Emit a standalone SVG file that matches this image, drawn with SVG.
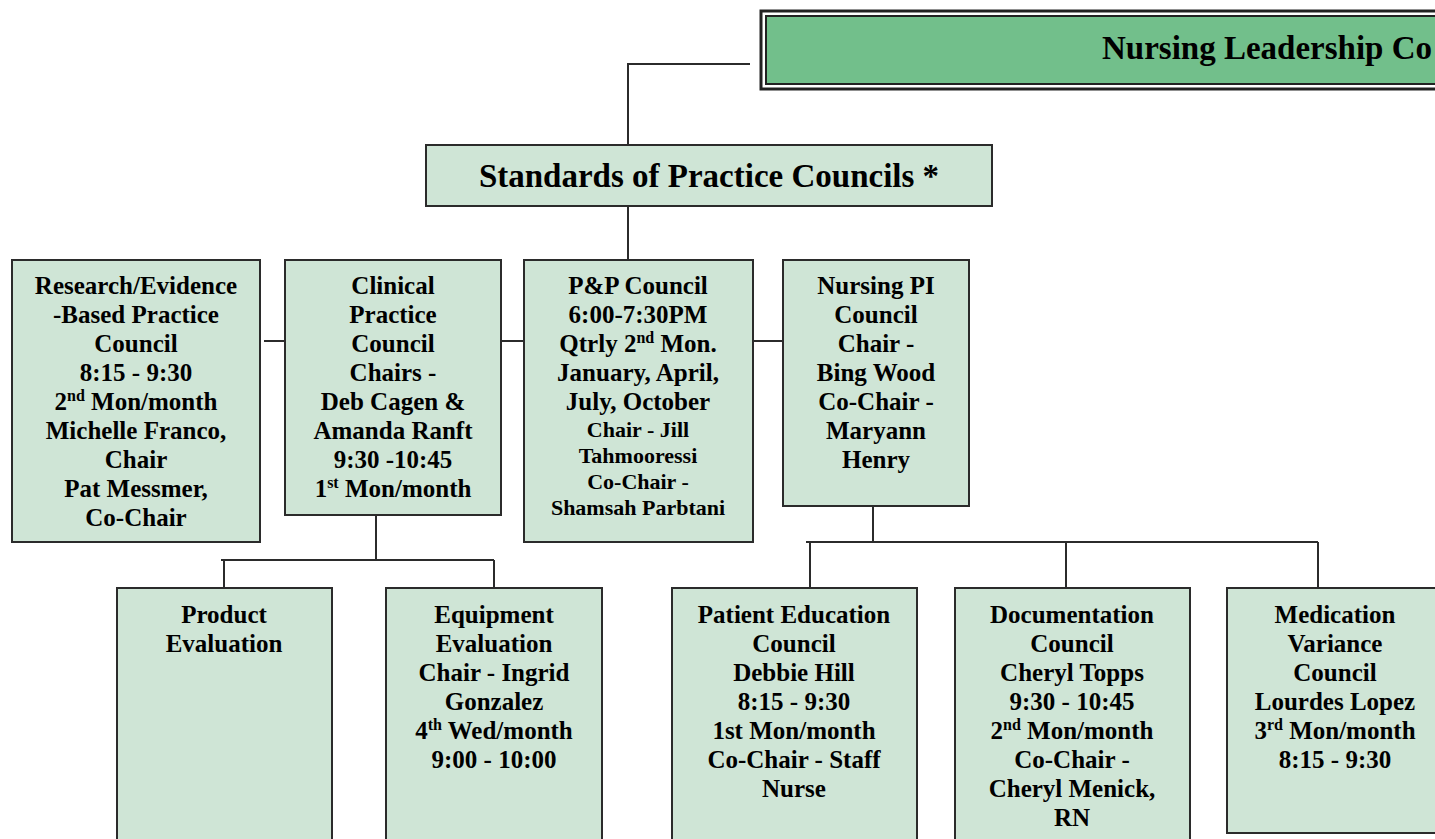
<svg xmlns="http://www.w3.org/2000/svg" width="1435" height="839" viewBox="0 0 1435 839">
<style>
.box{fill:#cfe5d6;stroke:#2b2b2b;stroke-width:2}
.t{font-family:"Liberation Serif","Times New Roman",serif;font-weight:bold;font-size:25px;fill:#000;text-anchor:middle}
.s{font-size:22px}
.big{font-size:33px}
.sup{font-size:16px}
.c{stroke:#2b2b2b;stroke-width:2;fill:none}
</style>
<rect width="1435" height="839" fill="#fff"/>
<g id="connectors">
<path class="c" d="M750 64H628V145"/>
<path class="c" d="M628 206V260"/>
<path class="c" d="M264 341H285M501 341H523M753 341H783"/>
<path class="c" d="M376 515V560M221 560H494M224 560V588M494 560V588"/>
<path class="c" d="M873 506V542M806 542H1318M810 542V588M1066 542V588M1318 542V588"/>
</g>
<g id="header">
<rect x="761" y="11" width="700" height="78" fill="none" stroke="#222" stroke-width="3"/>
<rect x="766" y="16" width="700" height="68" fill="#72bf8b" stroke="#222" stroke-width="2"/>
<text class="t big" x="1102" y="59" style="text-anchor:start">Nursing Leadership Co</text>
</g>
<g id="standards">
<rect class="box" x="426" y="145" width="566" height="61"/>
<text class="t big" x="709" y="187">Standards of Practice Councils *</text>
</g>
<g id="research">
<rect class="box" x="12" y="260" width="248" height="282"/>
<text class="t" x="136" y="294">Research/Evidence</text>
<text class="t" x="136" y="323">-Based Practice</text>
<text class="t" x="136" y="352">Council</text>
<text class="t" x="136" y="381">8:15 - 9:30</text>
<text class="t" x="136" y="410">2<tspan class="sup" dy="-9">nd</tspan><tspan dy="9"> Mon/month</tspan></text>
<text class="t" x="136" y="439">Michelle Franco,</text>
<text class="t" x="136" y="468">Chair</text>
<text class="t" x="136" y="497">Pat Messmer,</text>
<text class="t" x="136" y="526">Co-Chair</text>
</g>
<g id="clinical">
<rect class="box" x="285" y="260" width="216" height="255"/>
<text class="t" x="393" y="294">Clinical</text>
<text class="t" x="393" y="323">Practice</text>
<text class="t" x="393" y="352">Council</text>
<text class="t" x="393" y="381">Chairs -</text>
<text class="t" x="393" y="410">Deb Cagen &amp;</text>
<text class="t" x="393" y="439">Amanda Ranft</text>
<text class="t" x="393" y="468">9:30 -10:45</text>
<text class="t" x="393" y="497">1<tspan class="sup" dy="-9">st</tspan><tspan dy="9"> Mon/month</tspan></text>
</g>
<g id="pp">
<rect class="box" x="524" y="260" width="229" height="282"/>
<text class="t" x="638" y="294">P&amp;P Council</text>
<text class="t" x="638" y="323">6:00-7:30PM</text>
<text class="t" x="638" y="352">Qtrly 2<tspan class="sup" dy="-9">nd</tspan><tspan dy="9"> Mon.</tspan></text>
<text class="t" x="638" y="381">January, April,</text>
<text class="t" x="638" y="410">July, October</text>
<text class="t s" x="638" y="437">Chair - Jill</text>
<text class="t s" x="638" y="463">Tahmooressi</text>
<text class="t s" x="638" y="489">Co-Chair -</text>
<text class="t s" x="638" y="515">Shamsah Parbtani</text>
</g>
<g id="nursingpi">
<rect class="box" x="783" y="260" width="186" height="246"/>
<text class="t" x="876" y="294">Nursing PI</text>
<text class="t" x="876" y="323">Council</text>
<text class="t" x="876" y="352">Chair -</text>
<text class="t" x="876" y="381">Bing Wood</text>
<text class="t" x="876" y="410">Co-Chair -</text>
<text class="t" x="876" y="439">Maryann</text>
<text class="t" x="876" y="468">Henry</text>
</g>
<g id="product">
<rect class="box" x="117" y="588" width="215" height="270"/>
<text class="t" x="224" y="623">Product</text>
<text class="t" x="224" y="652">Evaluation</text>
</g>
<g id="equipment">
<rect class="box" x="386" y="588" width="216" height="270"/>
<text class="t" x="494" y="623">Equipment</text>
<text class="t" x="494" y="652">Evaluation</text>
<text class="t" x="494" y="681">Chair - Ingrid</text>
<text class="t" x="494" y="710">Gonzalez</text>
<text class="t" x="494" y="739">4<tspan class="sup" dy="-9">th</tspan><tspan dy="9"> Wed/month</tspan></text>
<text class="t" x="494" y="768">9:00 - 10:00</text>
</g>
<g id="patiented">
<rect class="box" x="672" y="588" width="245" height="270"/>
<text class="t" x="794" y="623">Patient Education</text>
<text class="t" x="794" y="652">Council</text>
<text class="t" x="794" y="681">Debbie Hill</text>
<text class="t" x="794" y="710">8:15 - 9:30</text>
<text class="t" x="794" y="739">1st Mon/month</text>
<text class="t" x="794" y="768">Co-Chair - Staff</text>
<text class="t" x="794" y="797">Nurse</text>
</g>
<g id="documentation">
<rect class="box" x="955" y="588" width="235" height="270"/>
<text class="t" x="1072" y="623">Documentation</text>
<text class="t" x="1072" y="652">Council</text>
<text class="t" x="1072" y="681">Cheryl Topps</text>
<text class="t" x="1072" y="710">9:30 - 10:45</text>
<text class="t" x="1072" y="739">2<tspan class="sup" dy="-9">nd</tspan><tspan dy="9"> Mon/month</tspan></text>
<text class="t" x="1072" y="768">Co-Chair -</text>
<text class="t" x="1072" y="797">Cheryl Menick,</text>
<text class="t" x="1072" y="826">RN</text>
</g>
<g id="medication">
<rect class="box" x="1227" y="588" width="220" height="245"/>
<text class="t" x="1335" y="623">Medication</text>
<text class="t" x="1335" y="652">Variance</text>
<text class="t" x="1335" y="681">Council</text>
<text class="t" x="1335" y="710">Lourdes Lopez</text>
<text class="t" x="1335" y="739">3<tspan class="sup" dy="-9">rd</tspan><tspan dy="9"> Mon/month</tspan></text>
<text class="t" x="1335" y="768">8:15 - 9:30</text>
</g>
</svg>
